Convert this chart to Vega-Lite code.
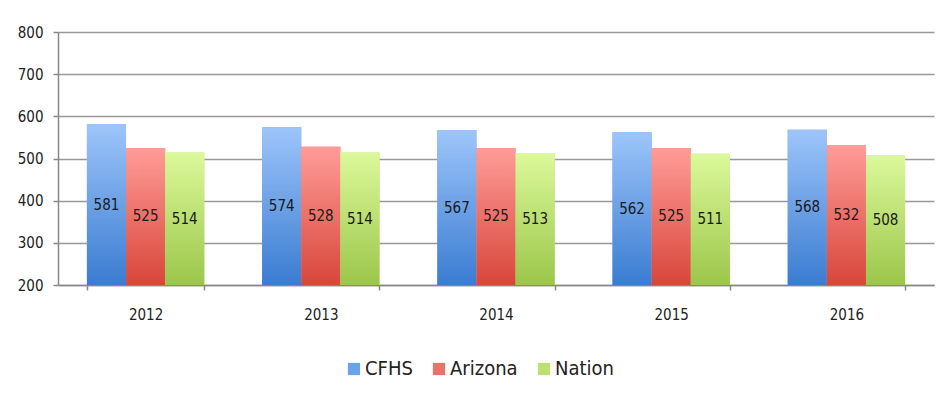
{
  "$schema": "https://vega.github.io/schema/vega-lite/v6.json",
  "width": 876,
  "height": 253,
  "autosize": "none",
  "padding": {"left": 58, "top": 32, "right": 11, "bottom": 123},
  "background": "white",
  "config": {
    "view": {"stroke": null},
    "font": "DejaVu Sans Condensed, Liberation Sans, sans-serif"
  },
  "data": {
    "values": [
      {"year": "2012", "series": "CFHS", "value": 581},
      {"year": "2012", "series": "Arizona", "value": 525},
      {"year": "2012", "series": "Nation", "value": 514},
      {"year": "2013", "series": "CFHS", "value": 574},
      {"year": "2013", "series": "Arizona", "value": 528},
      {"year": "2013", "series": "Nation", "value": 514},
      {"year": "2014", "series": "CFHS", "value": 567},
      {"year": "2014", "series": "Arizona", "value": 525},
      {"year": "2014", "series": "Nation", "value": 513},
      {"year": "2015", "series": "CFHS", "value": 562},
      {"year": "2015", "series": "Arizona", "value": 525},
      {"year": "2015", "series": "Nation", "value": 511},
      {"year": "2016", "series": "CFHS", "value": 568},
      {"year": "2016", "series": "Arizona", "value": 532},
      {"year": "2016", "series": "Nation", "value": 508}
    ]
  },
  "resolve": {"scale": {"y": "independent"}},
  "layer": [
    {
      "encoding": {
        "x": {
          "field": "year",
          "type": "nominal",
          "scale": {"paddingInner": 0.33, "paddingOuter": 0.165},
          "axis": {
            "title": null,
            "labelAngle": 0,
            "labelFontSize": 15,
            "labelColor": "#222222",
            "labelPadding": 17,
            "domainColor": "#888888",
            "domainWidth": 1.5,
            "tickColor": "#888888",
            "tickWidth": 1.5,
            "tickSize": 5,
            "tickBand": "extent",
            "grid": false
          }
        },
        "xOffset": {
          "field": "series",
          "type": "nominal",
          "scale": {"domain": ["CFHS", "Arizona", "Nation"], "paddingInner": 0, "paddingOuter": 0}
        },
        "y": {
          "field": "value",
          "type": "quantitative",
          "scale": {"domain": [200, 800], "zero": false, "nice": false},
          "axis": {
            "title": null,
            "values": [200, 300, 400, 500, 600, 700, 800],
            "labelFontSize": 15,
            "labelColor": "#222222",
            "labelPadding": 10,
            "grid": true,
            "gridColor": "#999999",
            "gridWidth": 1.5,
            "domainColor": "#888888",
            "domainWidth": 1.5,
            "tickColor": "#888888",
            "tickWidth": 1.5,
            "tickSize": 5
          }
        },
        "y2": {"datum": 200}
      },
      "layer": [
        {
          "mark": {"type": "bar", "opacity": 1},
          "encoding": {
            "color": {
              "field": "series",
              "type": "nominal",
              "scale": {"domain": ["CFHS", "Arizona", "Nation"], "range": ["#6AA3EA", "#EE706A", "#BCE074"]},
              "legend": {
                "title": null,
                "orient": "none",
                "legendX": 286,
                "legendY": 327,
                "direction": "horizontal",
                "symbolType": "square",
                "symbolSize": 150,
                "symbolStrokeWidth": 0,
                "symbolOpacity": 1,
                "labelFontSize": 20,
                "labelColor": "#222222",
                "labelOffset": 1,
                "columnPadding": 16
              }
            }
          }
        },
        {
          "transform": [{"filter": "datum.series === 'CFHS'"}],
          "mark": {
            "type": "bar",
            "color": {
              "gradient": "linear", "x1": 0, "y1": 0, "x2": 0, "y2": 1,
              "stops": [{"offset": 0, "color": "#9DC5FA"}, {"offset": 1, "color": "#3A7CD1"}]
            }
          }
        },
        {
          "transform": [{"filter": "datum.series === 'Arizona'"}],
          "mark": {
            "type": "bar",
            "color": {
              "gradient": "linear", "x1": 0, "y1": 0, "x2": 0, "y2": 1,
              "stops": [{"offset": 0, "color": "#FF9C98"}, {"offset": 1, "color": "#D8463A"}]
            }
          }
        },
        {
          "transform": [{"filter": "datum.series === 'Nation'"}],
          "mark": {
            "type": "bar",
            "color": {
              "gradient": "linear", "x1": 0, "y1": 0, "x2": 0, "y2": 1,
              "stops": [{"offset": 0, "color": "#DCF99B"}, {"offset": 1, "color": "#9BC64A"}]
            }
          }
        }
      ]
    },
    {
      "mark": {"type": "text", "fontSize": 15, "color": "#1a1a1a", "baseline": "middle", "align": "center"},
      "encoding": {
        "x": {"field": "year", "type": "nominal", "scale": {"paddingInner": 0.33, "paddingOuter": 0.165}},
        "xOffset": {
          "field": "series",
          "type": "nominal",
          "scale": {"domain": ["CFHS", "Arizona", "Nation"], "paddingInner": 0, "paddingOuter": 0}
        },
        "y": {
          "field": "value",
          "type": "quantitative",
          "scale": {"domain": [200, 1400], "zero": false, "nice": false},
          "axis": null
        },
        "text": {"field": "value", "type": "quantitative"}
      }
    }
  ]
}
